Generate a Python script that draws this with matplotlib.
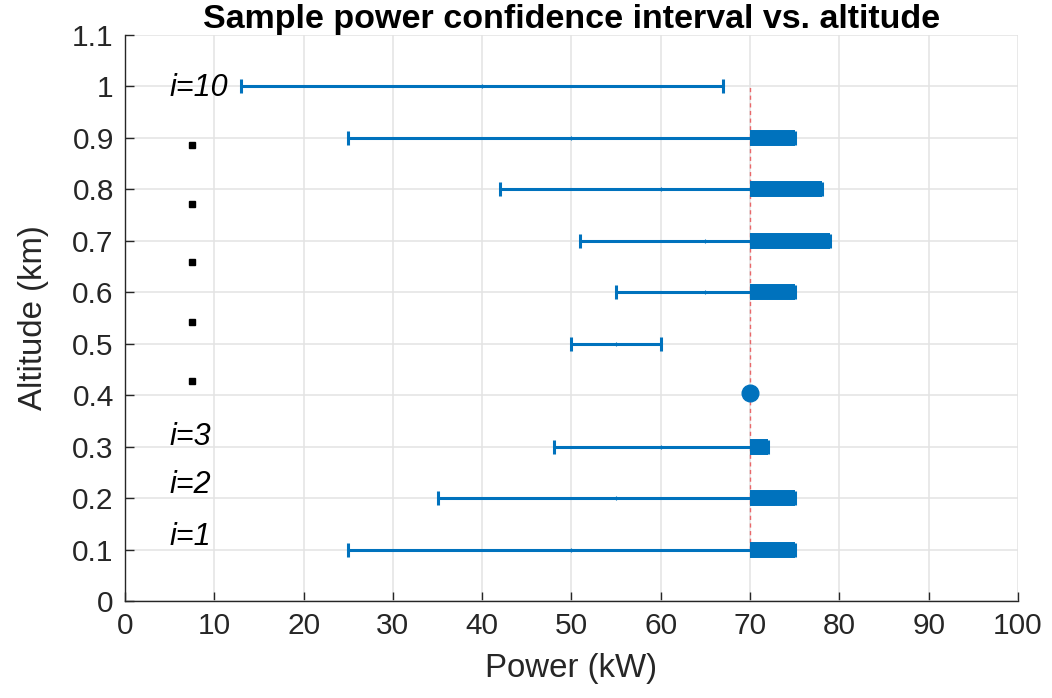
import numpy as np
import matplotlib
matplotlib.use('Agg')
import matplotlib.pyplot as plt

plt.rcParams['font.family'] = ['Liberation Sans', 'DejaVu Sans']

# datos
altitud = [0.1, 0.2, 0.3, 0.5, 0.6, 0.7, 0.8, 0.9, 1.0]
p_min = [25, 35, 48, 50, 55, 51, 42, 25, 13]
p_max = [75, 75, 72, 60, 75, 79, 78, 75, 67]
altitud_punto = 0.405
potencia_punto = 70
umbral = 70
etiquetas = ['i=1', 'i=2', 'i=3', 'i=10']
etiquetas_y = [0.124, 0.225, 0.319, 0.997]
puntos_y = [0.428, 0.542, 0.659, 0.772, 0.886]

azul = '#0072BD'
txt = '#262626'

fig = plt.figure(figsize=(10.52, 6.98), dpi=100)
ax = fig.add_axes([0.1188, 0.139, 0.8489, 0.811])

# linea de umbral
ax.plot([umbral, umbral], [0.1, 1.0], color='#e8484a', alpha=0.8, lw=1.0,
        dashes=(3, 2.5), zorder=2)

p_min = np.array(p_min)
p_max = np.array(p_max)
centro = (p_min + p_max) / 2
err = (p_max - p_min) / 2
ax.errorbar(centro, altitud, xerr=err, fmt='none', ecolor=azul, elinewidth=2.2,
            capsize=5, capthick=2.2, zorder=3)
ax.plot(centro, altitud, linestyle='none', marker='|', ms=3, mew=0.8,
        color=azul, zorder=3)

# tramo grueso por encima del umbral
for y, hi in zip(altitud, p_max):
    if hi > umbral:
        ax.plot([umbral, hi], [y, y], color=azul, lw=11.5,
                solid_capstyle='butt', zorder=4)

ax.plot([potencia_punto], [altitud_punto], 'o', color=azul, ms=12, zorder=4)

for t, y in zip(etiquetas, etiquetas_y):
    ax.text(5.0, y, t, fontsize=22, fontstyle='italic', ha='left',
            va='center', color='black')
ax.plot([7.5] * len(puntos_y), puntos_y, 's', color='black', ms=5, zorder=4)

ax.set_xlim(0, 100)
ax.set_ylim(0, 1.1)
ax.set_xticks(np.arange(0, 101, 10))
ax.set_yticks(np.round(np.arange(0, 1.11, 0.1), 1))
ax.set_yticklabels(['0', '0.1', '0.2', '0.3', '0.4', '0.5', '0.6', '0.7',
                    '0.8', '0.9', '1', '1.1'])
ax.grid(True, color='#e3e3e3', lw=1.1)
ax.set_axisbelow(True)
for s in ['top', 'right']:
    ax.spines[s].set_visible(False)
for s in ['left', 'bottom']:
    ax.spines[s].set_color(txt)
    ax.spines[s].set_linewidth(1.0)
ax.tick_params(direction='in', length=6.5, width=1.0, colors=txt,
               labelsize=21.5, pad=8)

ax.set_xlabel('Power (kW)', fontsize=23.8, color=txt, labelpad=9)
ax.set_ylabel('Altitude (km)', fontsize=23.8, color=txt, labelpad=17)
ax.set_title('Sample power confidence interval vs. altitude', fontsize=24.5,
             fontweight='bold', pad=3)

fig.savefig('out.png', dpi=100)
